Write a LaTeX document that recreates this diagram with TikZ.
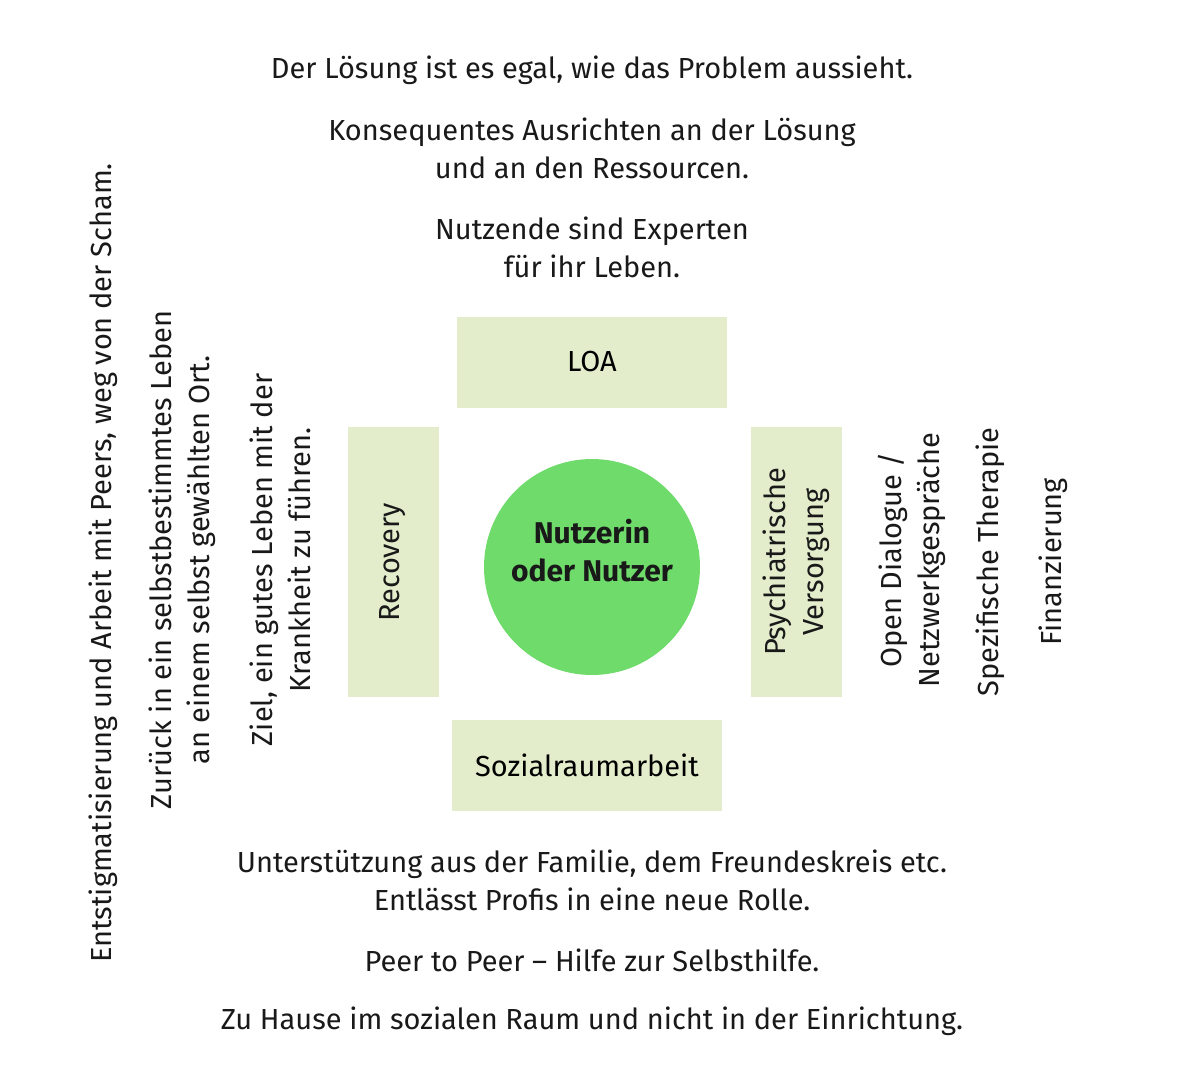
\documentclass[tikz,border=0pt]{standalone}
\usepackage{fontspec}
\setmainfont{Fira Sans}
\definecolor{boxg}{HTML}{E3EDCB}
\definecolor{circg}{HTML}{6EDB6A}
\begin{document}
\begin{tikzpicture}[x=1pt,y=-1pt,
  txt/.style={font=\fontsize{29}{38}\selectfont, align=center, text=black!90, inner sep=0},
  rot/.style={txt, rotate=90},
  boxn/.style={fill=boxg, draw=none, minimum width=270pt, minimum height=91pt, inner sep=0, font=\fontsize{29}{38}\selectfont}]
\useasboundingbox (0,0) rectangle (1186,1089);
\node[txt] (t1) at (592,70) {Der Lösung ist es egal, wie das Problem aussieht.};
\node[txt] (t2) at (592,148) {Konsequentes Ausrichten an der Lösung\\und an den Ressourcen.};
\node[txt] (t3) at (592,247) {Nutzende sind Experten\\für ihr Leben.};
\node[boxn] (loa) at (592,362) {LOA};
\node[boxn, minimum width=91pt, minimum height=270pt] (rec) at (393,562) {};
\node[rot] (rect) at (rec) {Recovery};
\node[boxn, minimum width=91pt, minimum height=270pt] (psy) at (796,562) {};
\node[rot] (psyt) at (psy) {Psychiatrische\\Versorgung};
\node[boxn] (soz) at (587,765) {Sozialraumarbeit};
\node[circle, fill=circg, minimum size=216pt, inner sep=0] (c) at (592,567) {};
\node[txt, font=\fontsize{30}{38}\selectfont\bfseries] (ct) at (592,551) {Nutzerin\\oder Nutzer};
\node[txt] (b1) at (592,880) {Unterstützung aus der Familie, dem Freundeskreis etc.\\Entlässt Profis in eine neue Rolle.};
\node[txt] (b2) at (592,960) {Peer to Peer – Hilfe zur Selbsthilfe.};
\node[txt] (b3) at (592,1021) {Zu Hause im sozialen Raum und nicht in der Einrichtung.};
\node[rot] (l1) at (103,563) {Entstigmatisierung und Arbeit mit Peers, weg von der Scham.};
\node[rot] (l2) at (182,560) {Zurück in ein selbstbestimmtes Leben\\an einem selbst gewählten Ort.};
\node[rot] (l3) at (280,560) {Ziel, ein gutes Leben mit der\\Krankheit zu führen.};
\node[rot] (r1) at (912,560) {Open Dialogue /\\Netzwerkgespräche};
\node[rot] (r2) at (990,562) {Spezifische Therapie};
\node[rot] (r3) at (1053,562) {Finanzierung};
\end{tikzpicture}
\end{document}
